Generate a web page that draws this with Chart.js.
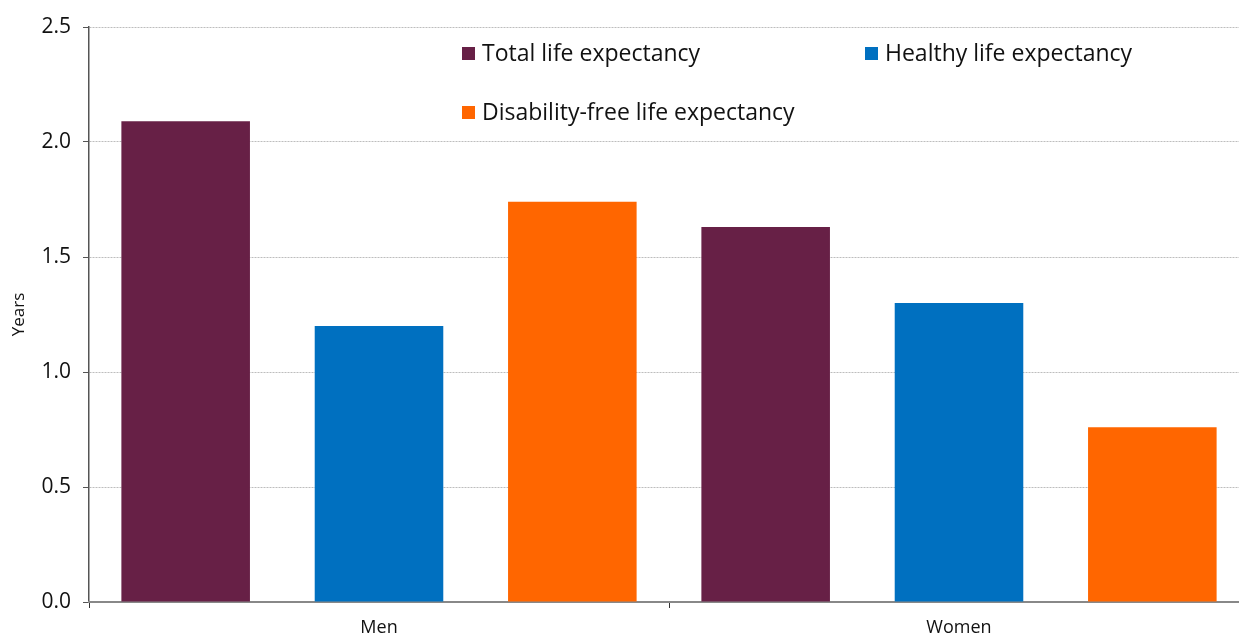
<!DOCTYPE html>
<html>
<head>
<meta charset="utf-8">
<title>Life expectancy gains</title>
<script src="https://cdn.jsdelivr.net/npm/chart.js@4.4.1/dist/chart.umd.min.js"></script>
<style>
    html, body { margin: 0; padding: 0; background: #fff; overflow: hidden; }
    .chart-wrap { position: relative; width: 1260px; height: 637px; }
</style>
</head>
<body>
<div class="chart-wrap">
    <canvas id="lifeChart"></canvas>
</div>
<script>
// Chart data
const groups = ['Men', 'Women'];
const seriesNames = ['Total life expectancy', 'Healthy life expectancy', 'Disability-free life expectancy'];
const totalLE = [2.09, 1.63];
const healthyLE = [1.20, 1.30];
const disabilityFreeLE = [1.74, 0.76];
const yTicks = [0, 0.5, 1.0, 1.5, 2.0, 2.5];

const colours = ['#672046', '#0070C0', '#FF6600'];
const FONT = '"Open Sans", "Noto Sans", sans-serif';

// Legend drawn inside the plot, two columns
const legendSpots = [
    { x: 462, y: 54 },
    { x: 865, y: 54 },
    { x: 462, y: 113 }
];

const insideLegend = {
    id: 'insideLegend',
    afterDraw(chart) {
        const ctx = chart.ctx;
        ctx.save();
        ctx.font = '23px ' + FONT;
        ctx.textBaseline = 'middle';
        chart.data.datasets.forEach((ds, i) => {
            const p = legendSpots[i];
            ctx.fillStyle = ds.backgroundColor;
            ctx.fillRect(p.x, p.y - 7, 13, 13);
            ctx.fillStyle = '#111';
            ctx.fillText(ds.label, p.x + 20, p.y);
        });
        ctx.restore();
    }
};

function initializeChart() {
    const ctx = document.getElementById('lifeChart');
    if (!ctx) return;

    const values = [totalLE, healthyLE, disabilityFreeLE];

    const chartData = {
        labels: groups,
        datasets: seriesNames.map((name, i) => ({
            label: name,
            data: values[i],
            backgroundColor: colours[i],
            borderWidth: 0,
            categoryPercentage: 1.0,
            barPercentage: 0.665
        }))
    };

    new Chart(ctx, {
        type: 'bar',
        data: chartData,
        options: {
            responsive: true,
            maintainAspectRatio: false,
            animation: false,
            layout: {
                padding: { top: 27, right: 11, left: 0, bottom: 0 }
            },
            plugins: {
                legend: { display: false },
                tooltip: { enabled: false }
            },
            scales: {
                y: {
                    min: 0,
                    max: 2.5,
                    afterBuildTicks: function(scale) {
                        scale.ticks = yTicks.map(v => ({ value: v }));
                    },
                    afterFit: function(scale) {
                        scale.width = 89;
                    },
                    ticks: {
                        padding: 12,
                        color: '#111',
                        font: { family: FONT, size: 21 },
                        callback: v => Number(v).toFixed(1)
                    },
                    grid: {
                        color: '#bdbdbd',
                        lineWidth: 1,
                        drawTicks: true,
                        tickLength: 6,
                        tickColor: '#555'
                    },
                    border: {
                        display: true,
                        color: '#555',
                        width: 1.5,
                        dash: [2, 1]
                    },
                    title: {
                        display: true,
                        text: 'Years',
                        color: '#111',
                        font: { family: FONT, size: 17 },
                        padding: { top: 9, bottom: 0 }
                    }
                },
                x: {
                    afterFit: function(scale) {
                        scale.height = 35;
                    },
                    ticks: {
                        color: '#111',
                        padding: 9,
                        font: { family: FONT, size: 18 }
                    },
                    grid: {
                        drawOnChartArea: false,
                        drawTicks: true,
                        tickLength: 6,
                        tickColor: '#333',
                        offset: true
                    },
                    border: {
                        display: true,
                        color: '#888',
                        width: 2
                    }
                }
            }
        },
        plugins: [insideLegend]
    });
}

document.addEventListener('DOMContentLoaded', initializeChart);
</script>
</body>
</html>
